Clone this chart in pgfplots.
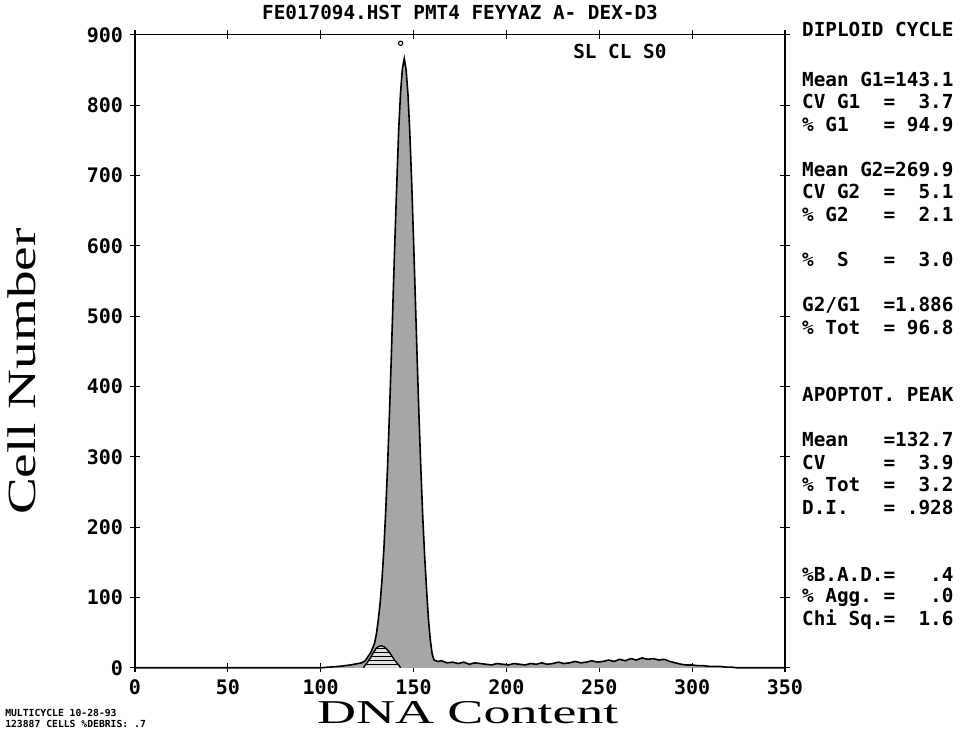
\documentclass[border=0pt]{standalone}
\usepackage{fontspec}
\usepackage{pgfplots}
\pgfplotsset{compat=1.18}
\usetikzlibrary{patterns}
\newfontfamily\mono{DejaVu Sans Mono}
\newfontfamily\lab{Liberation Serif}[FakeStretch=1.38]
\newfontfamily\labx{Liberation Serif}[FakeStretch=1.62]
\newcommand\tickfont{\mono\bfseries\fontsize{15}{15}\selectfont}
\newcommand\panel{\mono\bfseries\fontsize{14.5}{15}\selectfont}
% one line of the right-hand panel
\newcommand\pl[2]{\node[anchor=west,inner sep=0pt,font=\panel] at (axis description cs:1.026,#1) {#2};}

\pgfplotstableread{
x y
0 0
100 0
105 1
110 2
113 3
116 4
118 5
120 6
122 7
124 10
125 14
126 18
127 22
128 28
129 35
130 48
131 68
132 92
133 125
134 168
135 222
136 286
137 360
138 440
139 528
140 612
141 690
142 765
143 818
144 852
145 866
146 850
147 815
148 760
149 690
150 608
151 522
152 435
153 352
154 278
155 212
156 158
157 112
158 70
159 40
160 20
161 11
163 9
165 10
168 7
171 8
174 6
177 8
180 5
183 7
186 6
189 5
192 4
195 6
198 5
201 4
204 6
207 5
210 4
213 6
216 5
219 7
222 5
225 6
228 8
231 6
234 7
237 9
240 7
243 8
246 10
249 8
252 9
255 11
258 9
261 12
264 10
267 13
270 11
273 14
276 12
279 13
282 11
285 12
288 9
291 7
294 5
297 4
300 4
303 3
306 3
309 2
312 2
315 2
318 1
321 1
324 0
350 0
}\cells

\pgfplotstableread{
x y
123 0
124 4
125 7
126 11
127 15
128 20
129 24
130 28
131 30
132 31
133 31
134 30
135 28
136 25
137 22
138 18
139 14
140 10
141 7
142 4
143 0
}\apop

\begin{document}
\begin{tikzpicture}
\begin{axis}[
  scale only axis,
  width=487.5pt, height=474.75pt,
  xmin=0, xmax=350, ymin=0, ymax=900,
  xtick={0,50,...,350}, ytick={0,100,...,900},
  tick pos=both, tick align=center,
  major tick length=7pt,
  axis line style={line width=0.9pt},
  tick style={black, line width=0.9pt},
  clip=false,
  /pgf/number format/assume math mode=true,
  xticklabel style={font=\tickfont, yshift=-2pt},
  yticklabel style={font=\tickfont, xshift=-2pt},
  xlabel={DNA Content},
  ylabel={Cell Number},
  xlabel style={font=\labx\fontsize{25}{25}\selectfont, at={(axis description cs:0.512,-0.071)}, anchor=center},
  ylabel style={font=\lab\fontsize{30}{30}\selectfont, at={(axis description cs:-0.174,0.468)}, anchor=center, rotate=0},
]
\addplot[draw=black, line width=1.2pt, fill=black!35] table[x=x,y=y] {\cells};
\addplot[draw=black, line width=0.8pt, fill=black!12, postaction={pattern=horizontal lines}] table[x=x,y=y] {\apop};
\addplot[only marks, mark=o, mark size=1.6pt, black, line width=0.8pt] coordinates {(143,888)};

\node[font=\panel] at (axis description cs:0.5,1.036) {FE017094.HST PMT4 FEYYAZ A- DEX-D3};
\node[font=\panel] at (axis description cs:0.746,0.973) {SL CL S0};
\node[anchor=west, inner sep=0pt, align=left, font=\mono\bfseries\fontsize{7.3}{8.5}\selectfont]
  at (axis description cs:-0.2,-0.08) {MULTICYCLE 10-28-93\\123887 CELLS \%DEBRIS: .7};

\pl{1.008}{DIPLOID CYCLE}
\pl{0.929}{Mean G1=143.1}
\pl{0.894}{CV~G1~~=~~3.7}
\pl{0.858}{\%~G1~~~=~94.9}
\pl{0.787}{Mean G2=269.9}
\pl{0.752}{CV~G2~~=~~5.1}
\pl{0.716}{\%~G2~~~=~~2.1}
\pl{0.645}{\%~~S~~~=~~3.0}
\pl{0.573}{G2/G1~~=1.886}
\pl{0.537}{\%~Tot~~=~96.8}
\pl{0.431}{APOPTOT. PEAK}
\pl{0.360}{Mean~~~=132.7}
\pl{0.324}{CV~~~~~=~~3.9}
\pl{0.289}{\%~Tot~~=~~3.2}
\pl{0.253}{D.I.~~~=~.928}
\pl{0.147}{\%B.A.D.=~~~.4}
\pl{0.111}{\%~Agg.~=~~~.0}
\pl{0.076}{Chi~Sq.=~~1.6}

\path (axis description cs:-0.2077,-0.1027) rectangle (axis description cs:1.297,1.055);
\end{axis}
\end{tikzpicture}
\end{document}
